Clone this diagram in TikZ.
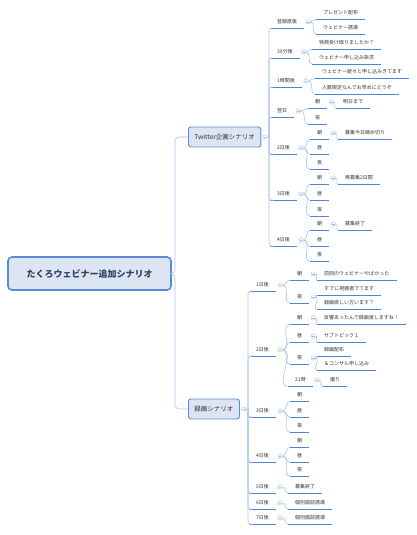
\documentclass[tikz,border=0pt]{standalone}
\usepackage{fontspec}
\setmainfont{Noto Sans CJK JP}
\usepackage{xcolor}
\usetikzlibrary{positioning}
\definecolor{boxfill}{HTML}{DCE6F2}
\definecolor{boxline}{HTML}{5A8AD0}
\definecolor{linkc}{HTML}{A7C3EA}
\definecolor{ulinec}{HTML}{4F86CF}
\definecolor{foldc}{HTML}{A9BCD8}
\definecolor{txt}{HTML}{333333}
\definecolor{roottxt}{HTML}{2F4260}

\begin{document}
\begin{tikzpicture}[x=1pt,y=-1pt,
    box/.style={draw=boxline,fill=boxfill,rounded corners=2.5pt,line width=0.9pt,text=txt},
    uline/.style={draw=ulinec,line width=1.1pt},
    link/.style={draw=linkc,line width=0.6pt},
    topic/.style={anchor=west,minimum height=12pt,inner xsep=7pt,inner ysep=0pt,
      font=\fontsize{5}{6}\selectfont,text=txt,
      append after command={(\tikzlastnode.south west) edge[uline] (\tikzlastnode.south east)}},
    fold/.style={circle,draw=foldc,fill=white,line width=0.4pt,inner sep=0pt,minimum size=4.4pt,
      path picture={\draw[foldc,line width=0.4pt] ([xshift=-1.2pt]path picture bounding box.center)
        -- ([xshift=1.2pt]path picture bounding box.center);}}]
  \useasboundingbox (0,0) rectangle (416,535);

  \node[box,minimum width=163pt,minimum height=33pt,line width=1.6pt,rounded corners=4pt,
    font=\fontsize{9}{11}\selectfont\bfseries,text=roottxt] (root) at (89.5,273.5) {たくろウェビナー追加シナリオ};
  \node[box,anchor=west,minimum height=20pt,inner xsep=6pt,font=\fontsize{6.5}{8}\selectfont] (tw) at (188,137) {Twitter企画シナリオ};
  \node[box,anchor=west,minimum height=20pt,inner xsep=6pt,font=\fontsize{6.5}{8}\selectfont] (rec) at (188,409) {録画シナリオ};

  % Twitter
  \node[topic] (t1) at (270,22) {登録直後};
  \node[topic] (t1a) at (316,13) {プレゼント配布};
  \node[topic] (t1b) at (316,28) {ウェビナー誘導};
  \node[topic] (t2) at (270,52) {30分後};
  \node[topic] (t2a) at (312,43) {特典受け取りましたか？};
  \node[topic] (t2b) at (312,58) {ウェビナー申し込み訴求};
  \node[topic] (t3) at (270,81) {1時間後};
  \node[topic] (t3a) at (315,72) {ウェビナー続々と申し込みきてます};
  \node[topic] (t3b) at (315,88) {人数限定なんでお早めにどうぞ};
  \node[topic] (t4) at (270,111) {翌日};
  \node[topic] (t4a) at (308,102) {朝};
  \node[topic] (t4a1) at (336,102) {明日まで};
  \node[topic] (t4b) at (308,118) {夜};
  \node[topic] (t5) at (270,148) {2日後};
  \node[topic] (t5a) at (310,133) {朝};
  \node[topic] (t5a1) at (338,133) {募集今日締め切り};
  \node[topic] (t5b) at (310,148) {昼};
  \node[topic] (t5c) at (310,163) {夜};
  \node[topic] (t6) at (270,194) {3日後};
  \node[topic] (t6a) at (310,178) {朝};
  \node[topic] (t6a1) at (338,178) {再募集2日間};
  \node[topic] (t6b) at (310,194) {昼};
  \node[topic] (t6c) at (310,210) {夜};
  \node[topic] (t7) at (270,240) {4日後};
  \node[topic] (t7a) at (310,224) {朝};
  \node[topic] (t7a1) at (338,224) {募集終了};
  \node[topic] (t7b) at (310,240) {昼};
  \node[topic] (t7c) at (310,255) {夜};

  % recording
  \node[topic] (r1) at (249,285) {1日後};
  \node[topic] (r1a) at (290,274) {朝};
  \node[topic] (r1a1) at (317,274) {前回のウェビナーやばかった};
  \node[topic] (r1b) at (290,297) {夜};
  \node[topic] (r1b1) at (317,289) {すでに視聴者でてます};
  \node[topic] (r1b2) at (317,303) {録画欲しい方います？};
  \node[topic] (r2) at (249,350) {2日後};
  \node[topic] (r2a) at (290,318) {朝};
  \node[topic] (r2a1) at (317,318) {反響あったんで録画渡しますね！};
  \node[topic] (r2b) at (290,336) {昼};
  \node[topic] (r2b1) at (317,336) {サブトピック１};
  \node[topic] (r2c) at (290,358) {夜};
  \node[topic] (r2c1) at (317,350) {録画配布};
  \node[topic] (r2c2) at (317,364) {＆コンサル申し込み};
  \node[topic] (r2d) at (288,380) {21時};
  \node[topic] (r2d1) at (323,380) {撮り};
  \node[topic] (r3) at (249,411) {3日後};
  \node[topic] (r3a) at (290,395) {朝};
  \node[topic] (r3b) at (290,411) {昼};
  \node[topic] (r3c) at (290,426) {夜};
  \node[topic] (r4) at (249,456) {4日後};
  \node[topic] (r4a) at (290,441) {朝};
  \node[topic] (r4b) at (290,456) {昼};
  \node[topic] (r4c) at (290,470) {夜};
  \node[topic] (r5) at (249,487) {5日後};
  \node[topic] (r5a) at (288,487) {募集終了};
  \node[topic] (r6) at (249,503) {6日後};
  \node[topic] (r6a) at (288,503) {個別面談誘導};
  \node[topic] (r7) at (249,518) {7日後};
  \node[topic] (r7a) at (288,518) {個別面談誘導};

  \foreach \n in {tw,rec,t1,t2,t3,t4,t4a,t5,t5a,t6,t6a,t7,t7a,r1,r1a,r1b,r2,r2a,r2b,r2c,r2d,r3,r4,r5,r6,r7}
    \node[fold,right=1.5pt of \n] (f\n) {};

  \coordinate (rootj) at (175,273.5);
  \coordinate (twj) at (269,137);
  \coordinate (recj) at (248,409);
  \draw[link,rounded corners=4pt] (root.east) -- (rootj) |- (tw.west);
  \draw[link,rounded corners=4pt] (root.east) -- (rootj) |- (rec.west);
  \draw[link] (ftw.east) -- (twj);
  \draw[link] (frec.east) -- (recj);
  \foreach \n in {t1,t2,t3,t4,t5,t6,t7}
    \draw[link,rounded corners=3pt] (twj) |- (\n.south west);
  \foreach \n in {r1,r2,r3,r4,r5,r6,r7}
    \draw[link,rounded corners=3pt] (recj) |- (\n.south west);

  \foreach \p/\c in {t1/t1a,t1/t1b,t2/t2a,t2/t2b,t3/t3a,t3/t3b,t4/t4a,t4/t4b,t4a/t4a1,
      t5/t5a,t5/t5b,t5/t5c,t5a/t5a1,t6/t6a,t6/t6b,t6/t6c,t6a/t6a1,t7/t7a,t7/t7b,t7/t7c,t7a/t7a1,
      r1/r1a,r1/r1b,r1a/r1a1,r1b/r1b1,r1b/r1b2,r2/r2a,r2/r2b,r2/r2c,r2/r2d,r2a/r2a1,r2b/r2b1,
      r2c/r2c1,r2c/r2c2,r2d/r2d1,r3/r3a,r3/r3b,r3/r3c,r4/r4a,r4/r4b,r4/r4c,r5/r5a,r6/r6a,r7/r7a}
    \draw[link] (f\p.east) to[out=0,in=180] (\c.south west);
\end{tikzpicture}
\end{document}
